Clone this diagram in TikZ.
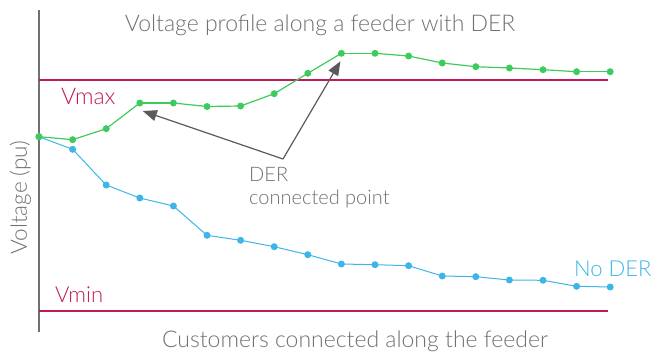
\documentclass[tikz,border=0pt]{standalone}
\usepackage{fontspec}
\setmainfont{Lato Light}
\usepackage{tikz}
\usetikzlibrary{arrows.meta,calc}
\definecolor{dergreen}{rgb}{0.24, 0.80, 0.36}
\definecolor{derblue}{rgb}{0.24, 0.71, 0.91}
\definecolor{limred}{rgb}{0.76, 0.10, 0.35}
\definecolor{txtgray}{rgb}{0.44, 0.44, 0.45}
\definecolor{arrgray}{rgb}{0.35, 0.35, 0.37}

\begin{document}
\begin{tikzpicture}[x=1pt, y=-1pt, font=\fontsize{23}{25}\selectfont,
		pt/.style={circle, fill=#1, inner sep=0pt, minimum size=7pt},
		lbl/.style={text=#1, inner sep=0pt},
		derarrow/.style={arrgray, line width=1.2pt, -{Triangle[length=14pt, width=11pt]}}]
				\useasboundingbox (0,0) rectangle (653,356);
			
				% axis and limits
				\coordinate (ytop) at (39,10);
				\coordinate (ybot) at (39,332);
				\coordinate (maxl) at (39,80);
				\coordinate (maxr) at (608,80);
				\coordinate (minl) at (39,311);
				\coordinate (minr) at (608,311);
				\draw[txtgray, line width=1.8pt] (ytop) -- (ybot);
				\draw[limred, line width=2pt] (maxl) -- (maxr);
				\draw[limred, line width=2pt] (minl) -- (minr);
				
				% no DER
				\foreach \v [count=\i from 0] in {136.7,149.3,185,198,206,235.3,240.3,246.7,254.7,264,264.7,265.7,276,276.7,280,280.3,286.3,287}
					\node[pt=derblue] (b\i) at ({39+33.6*\i},\v) {};
				\foreach \i [evaluate=\i as \j using int(\i+1)] in {0,...,16}
					\draw[derblue, line width=1pt] (b\i.center) -- (b\j.center);
				
				% with DER
				\foreach \v [count=\i from 0] in {136.7,139.7,128.7,103,103,106.5,106,93.7,73.3,53.3,53.3,56,63,66.7,68,69.7,71.7,71.7}
					\node[pt=dergreen] (g\i) at ({39+33.6*\i},\v) {};
				\foreach \i [evaluate=\i as \j using int(\i+1)] in {0,...,16}
					\draw[dergreen, line width=1.2pt] (g\i.center) -- (g\j.center);
				
				% labels
				\node[lbl=txtgray, anchor=base] (title) at (320,31.5) {Voltage profile along a feeder with DER};
				\node[lbl=txtgray, anchor=base] (xlab) at (355,347) {Customers connected along the feeder};
				\node[lbl=txtgray, anchor=base, rotate=90, font=\fontsize{22.5}{24}\selectfont] (ylab) at (27,197.5) {Voltage (pu)};
				\node[lbl=limred, anchor=base west] (vmax) at (61,104) {Vmax};
				\node[lbl=limred, anchor=base west, font=\fontsize{22}{24}\selectfont] (vmin) at (55,302.7) {Vmin};
				\node[lbl=derblue, anchor=base west, font=\fontsize{22}{24}\selectfont] (noder) at (574,276.7) {No DER};
				\node[lbl=txtgray, anchor=base west, font=\fontsize{20}{22}\selectfont] (der) at (249,181) {DER};
				\node[lbl=txtgray, anchor=base west, font=\fontsize{20}{22}\selectfont] (conn) at (249,204) {connected point};
				
				% pointers to the DER
				\coordinate (apex) at (283,159);
				\draw[derarrow] (apex) -- ([shift={(3,8)}]g3.center);
				\draw[derarrow] (apex) -- ([shift={(-1,8)}]g9.center);
			\end{tikzpicture}
\end{document}
